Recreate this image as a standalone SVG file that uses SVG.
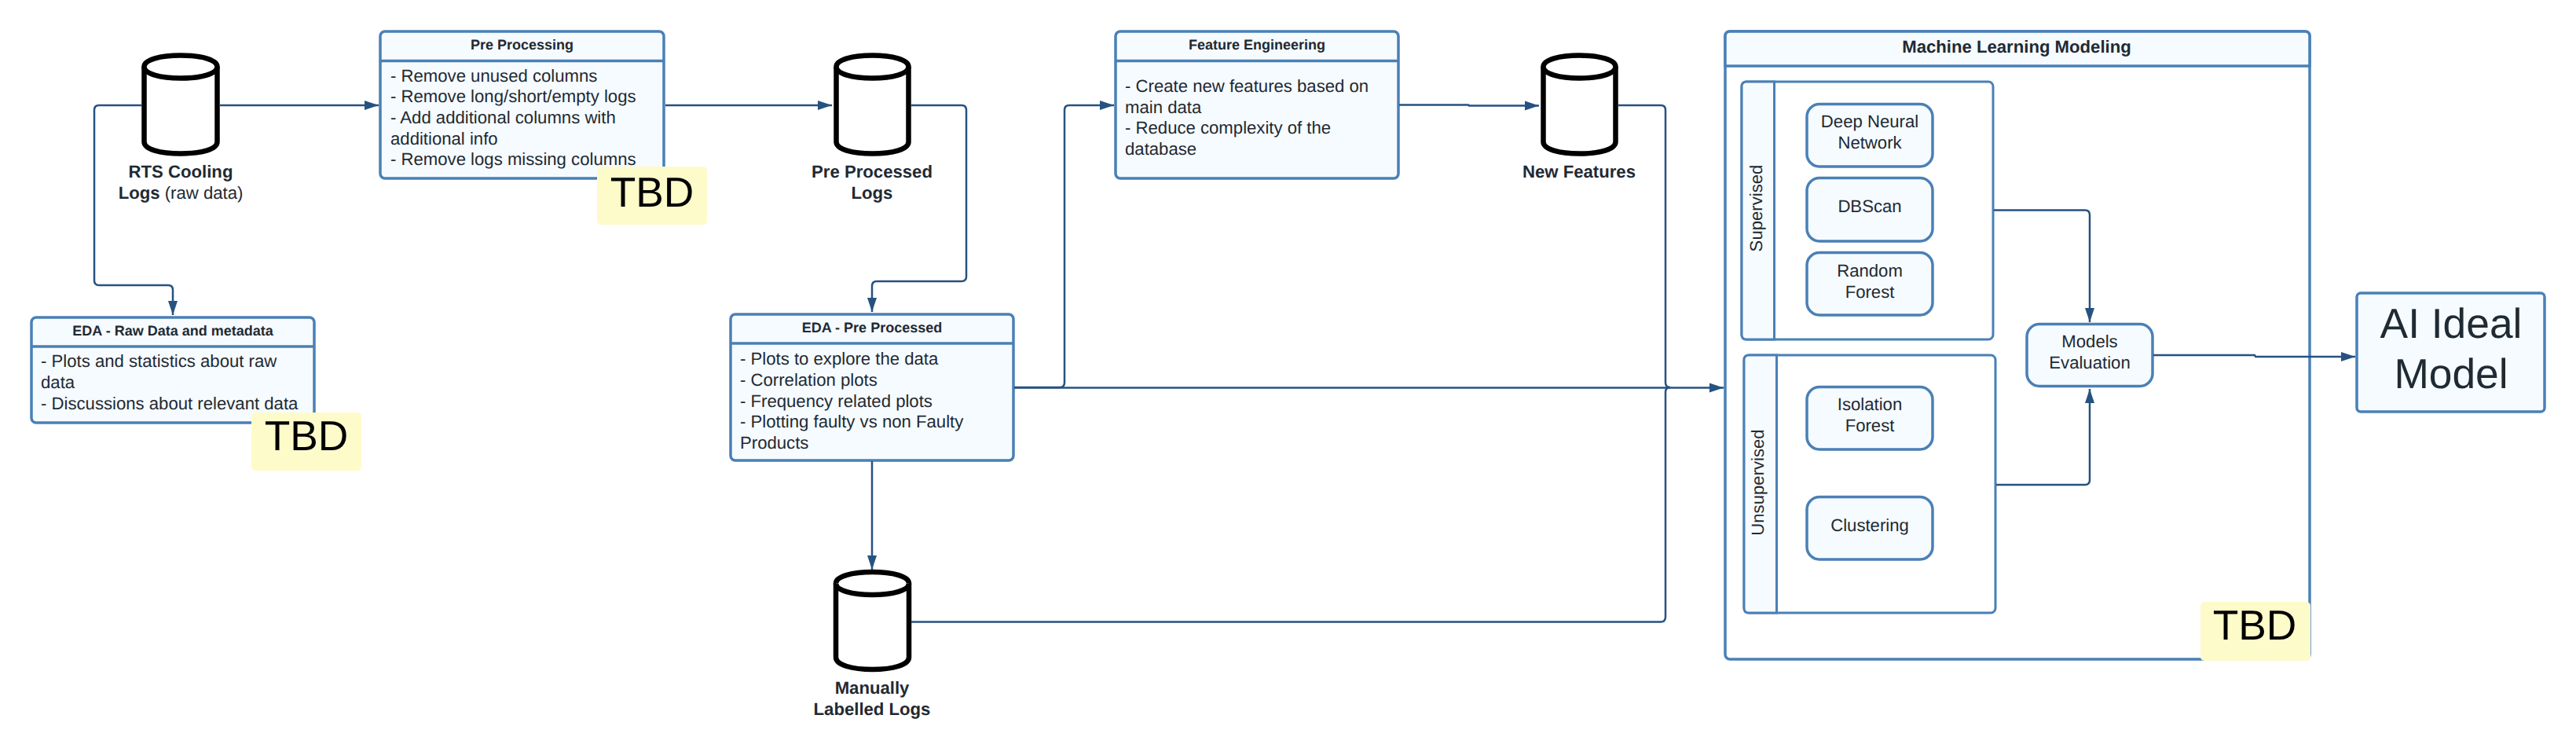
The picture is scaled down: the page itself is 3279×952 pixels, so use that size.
<svg xmlns="http://www.w3.org/2000/svg" width="3279" height="952" viewBox="0 0 3279 952">
<style>
text{font-family:"Liberation Sans",Arial,sans-serif;fill:#1f2a33;font-size:22.15px;text-rendering:geometricPrecision}
.b{font-weight:700}
.t{font-weight:700;font-size:18px;text-anchor:middle}
.c{text-anchor:middle}
.box{fill:#f6fbff;stroke:#4a80b5;stroke-width:3.5}
.div{stroke:#4a80b5;stroke-width:3.5;fill:none}
.lane{fill:#fff;stroke:#4a80b5;stroke-width:3}
.cyl{fill:#fff;stroke:#000;stroke-width:6.5}
.con{fill:none;stroke:#265280;stroke-width:2.5;stroke-linejoin:round}
.note{fill:#fdfbc9}
.tbd{font-size:53.33px;fill:#000;text-anchor:middle}
</style>
<defs>
<marker id="a" markerUnits="userSpaceOnUse" markerWidth="20" markerHeight="14" refX="18" refY="7" orient="auto"><path d="M0 1L18 7L0 13Z" fill="#265280"/></marker>
</defs>
<g id="rts-cooling-logs">
<path class="cyl" d="M183.500 85C183.500 76 204 70.500 230 70.500S276.500 76 276.500 85V180.500C276.500 190 256 195.500 230 195.500S183.500 190 183.500 180.500Z"/>
<path class="cyl" fill="none" d="M183.500 85C183.500 94 204 99.500 230 99.500S276.500 94 276.500 85"/>
<text class="c" x="230" y="226"><tspan class="b">RTS Cooling</tspan></text>
<text class="c" x="230" y="252.500"><tspan class="b">Logs</tspan> (raw data)</text>
</g>
<g id="pre-processing">
<rect class="box" x="484" y="40" width="361" height="187" rx="6"/>
<path class="div" d="M484 77.500H845"/>
<text class="t" x="664.500" y="63">Pre Processing</text>
<text x="497" y="103.500">- Remove unused columns</text>
<text x="497" y="130">- Remove long/short/empty logs</text>
<text x="497" y="157">- Add additional columns with</text>
<text x="497" y="183.500">additional info</text>
<text x="497" y="210">- Remove logs missing columns</text>
</g>
<g id="tbd-pre-processing">
<rect class="note" x="760" y="212" width="140" height="74" rx="5"/>
<text class="tbd" x="830" y="262.500">TBD</text>
</g>
<g id="eda-raw">
<rect class="box" x="40" y="404" width="360" height="134" rx="6"/>
<path class="div" d="M40 441H400"/>
<text class="t" x="220" y="426.500">EDA - Raw Data and metadata</text>
<text x="52" y="467">- Plots and statistics about raw</text>
<text x="52" y="493.500">data</text>
<text x="52" y="520.500">- Discussions about relevant data</text>
</g>
<g id="tbd-eda-raw">
<rect class="note" x="320" y="525" width="140" height="74" rx="5"/>
<text class="tbd" x="390" y="573">TBD</text>
</g>
<g id="pre-processed-logs">
<path class="cyl" d="M1064.500 85C1064.500 76 1085 70.500 1110.500 70.500S1156.500 76 1156.500 85V180.500C1156.500 190 1136 195.500 1110.500 195.500S1064.500 190 1064.500 180.500Z"/>
<path class="cyl" fill="none" d="M1064.500 85C1064.500 94 1085 99.500 1110.500 99.500S1156.500 94 1156.500 85"/>
<text class="c b" x="1110" y="226">Pre Processed</text>
<text class="c b" x="1110" y="252.500">Logs</text>
</g>
<g id="eda-pre">
<rect class="box" x="930" y="400" width="360" height="186" rx="6"/>
<path class="div" d="M930 437H1290"/>
<text class="t" x="1110" y="422.500">EDA - Pre Processed</text>
<text x="942" y="464">- Plots to explore the data</text>
<text x="942" y="490.500">- Correlation plots</text>
<text x="942" y="517.500">- Frequency related plots</text>
<text x="942" y="544">- Plotting faulty vs non Faulty</text>
<text x="942" y="570.500">Products</text>
</g>
<g id="feature-engineering">
<rect class="box" x="1420" y="40" width="360" height="187" rx="6"/>
<path class="div" d="M1420 77.500H1780"/>
<text class="t" x="1600" y="63">Feature Engineering</text>
<text x="1432" y="116.500">- Create new features based on</text>
<text x="1432" y="143.500">main data</text>
<text x="1432" y="170">- Reduce complexity of the</text>
<text x="1432" y="197">database</text>
</g>
<g id="new-features">
<path class="cyl" d="M1964.500 85C1964.500 76 1985 70.500 2010.500 70.500S2056.500 76 2056.500 85V180.500C2056.500 190 2036 195.500 2010.500 195.500S1964.500 190 1964.500 180.500Z"/>
<path class="cyl" fill="none" d="M1964.500 85C1964.500 94 1985 99.500 2010.500 99.500S2056.500 94 2056.500 85"/>
<text class="c b" x="2010" y="226">New Features</text>
</g>
<g id="manually-labelled-logs">
<path class="cyl" d="M1064 742.500C1064 733.500 1085 728 1110.500 728S1157 733.500 1157 742.500V836.500C1157 846.500 1136 852 1110.500 852S1064 846.500 1064 836.500Z"/>
<path class="cyl" fill="none" d="M1064 742.500C1064 751.500 1085 757 1110.500 757S1157 751.500 1157 742.500"/>
<text class="c b" x="1110" y="883">Manually</text>
<text class="c b" x="1110" y="909.500">Labelled Logs</text>
</g>
<g id="ml-modeling">
<rect x="2196" y="40" width="744" height="799" rx="6" fill="#fff" stroke="#4a80b5" stroke-width="3.5"/>
<path d="M2196 84V46Q2196 40 2202 40H2934Q2940 40 2940 46V84Z" class="box"/>
<text class="b c" x="2567" y="66.500" style="font-size:22.15px">Machine Learning Modeling</text>
</g>
<g id="supervised">
<rect class="lane" x="2217" y="104" width="320" height="328" rx="6"/>
<path d="M2258.500 104H2223Q2217 104 2217 110V426Q2217 432 2223 432H2258.500Z" fill="#f6fbff" stroke="#4a80b5" stroke-width="3"/>
<text class="c" transform="translate(2243 265) rotate(-90)">Supervised</text>
</g>
<g id="unsupervised">
<rect class="lane" x="2220" y="452" width="320" height="328" rx="6"/>
<path d="M2261.500 452H2226Q2220 452 2220 458V774Q2220 780 2226 780H2261.500Z" fill="#f6fbff" stroke="#4a80b5" stroke-width="3"/>
<text class="c" transform="translate(2245 614) rotate(-90)">Unsupervised</text>
</g>
<g id="deep-neural-network">
<rect class="box" x="2300" y="132.500" width="160" height="79.500" rx="16"/>
<text class="c" x="2380" y="162">Deep Neural</text>
<text class="c" x="2380" y="189">Network</text>
</g>
<g id="dbscan">
<rect class="box" x="2300" y="226.500" width="160" height="80.500" rx="16"/>
<text class="c" x="2380" y="270">DBScan</text>
</g>
<g id="random-forest">
<rect class="box" x="2300" y="321.500" width="160" height="79.500" rx="16"/>
<text class="c" x="2380" y="352">Random</text>
<text class="c" x="2380" y="379">Forest</text>
</g>
<g id="isolation-forest">
<rect class="box" x="2300" y="492.500" width="160" height="79.500" rx="16"/>
<text class="c" x="2380" y="522">Isolation</text>
<text class="c" x="2380" y="549">Forest</text>
</g>
<g id="clustering">
<rect class="box" x="2300" y="632.500" width="160" height="79.500" rx="16"/>
<text class="c" x="2380" y="676">Clustering</text>
</g>
<g id="models-evaluation">
<rect class="box" x="2580" y="412.500" width="160" height="79" rx="16"/>
<text class="c" x="2660" y="442">Models</text>
<text class="c" x="2660" y="469">Evaluation</text>
</g>
<g id="ai-ideal-model">
<rect class="box" x="3000" y="373" width="239" height="151" rx="5"/>
<text class="c" x="3120" y="430" style="font-size:53.33px">AI Ideal</text>
<text class="c" x="3120" y="494" style="font-size:53.33px">Model</text>
</g>
<g id="tbd-ml">
<rect class="note" x="2801" y="766" width="140" height="75" rx="5"/>
<text class="tbd" x="2870" y="814">TBD</text>
</g>
<g id="connectors">
<path class="con" marker-end="url(#a)" d="M280 134H482"/>
<path class="con" marker-end="url(#a)" d="M180 134H126Q120 134 120 140V357Q120 363 126 363H214Q220 363 220 369V401"/>
<path class="con" marker-end="url(#a)" d="M847 134H1059"/>
<path class="con" marker-end="url(#a)" d="M1160 134H1224Q1230 134 1230 140V352Q1230 358 1224 358H1116Q1110 358 1110 364V397"/>
<path class="con" marker-end="url(#a)" d="M1291 493H1349Q1355 493 1355 487V140Q1355 134 1361 134H1418"/>
<path class="con" marker-end="url(#a)" d="M1291 493.500H2194"/>
<path class="con" marker-end="url(#a)" d="M1781 133.500H1869L1870 134.500H1959"/>
<path class="con" d="M2060 134H2114Q2120 134 2120 140V487Q2120 493 2126 493"/>
<path class="con" d="M1160 791.500H2114Q2120 791.500 2120 785V499Q2120 493 2126 493"/>
<path class="con" marker-end="url(#a)" d="M1110 587V725"/>
<path class="con" marker-end="url(#a)" d="M2538 267.500H2654Q2660 267.500 2660 273.500V410"/>
<path class="con" marker-end="url(#a)" d="M2541 617H2654Q2660 617 2660 611V495"/>
<path class="con" marker-end="url(#a)" d="M2741 452H2870L2871 454H2998"/>
</g>
</svg>
